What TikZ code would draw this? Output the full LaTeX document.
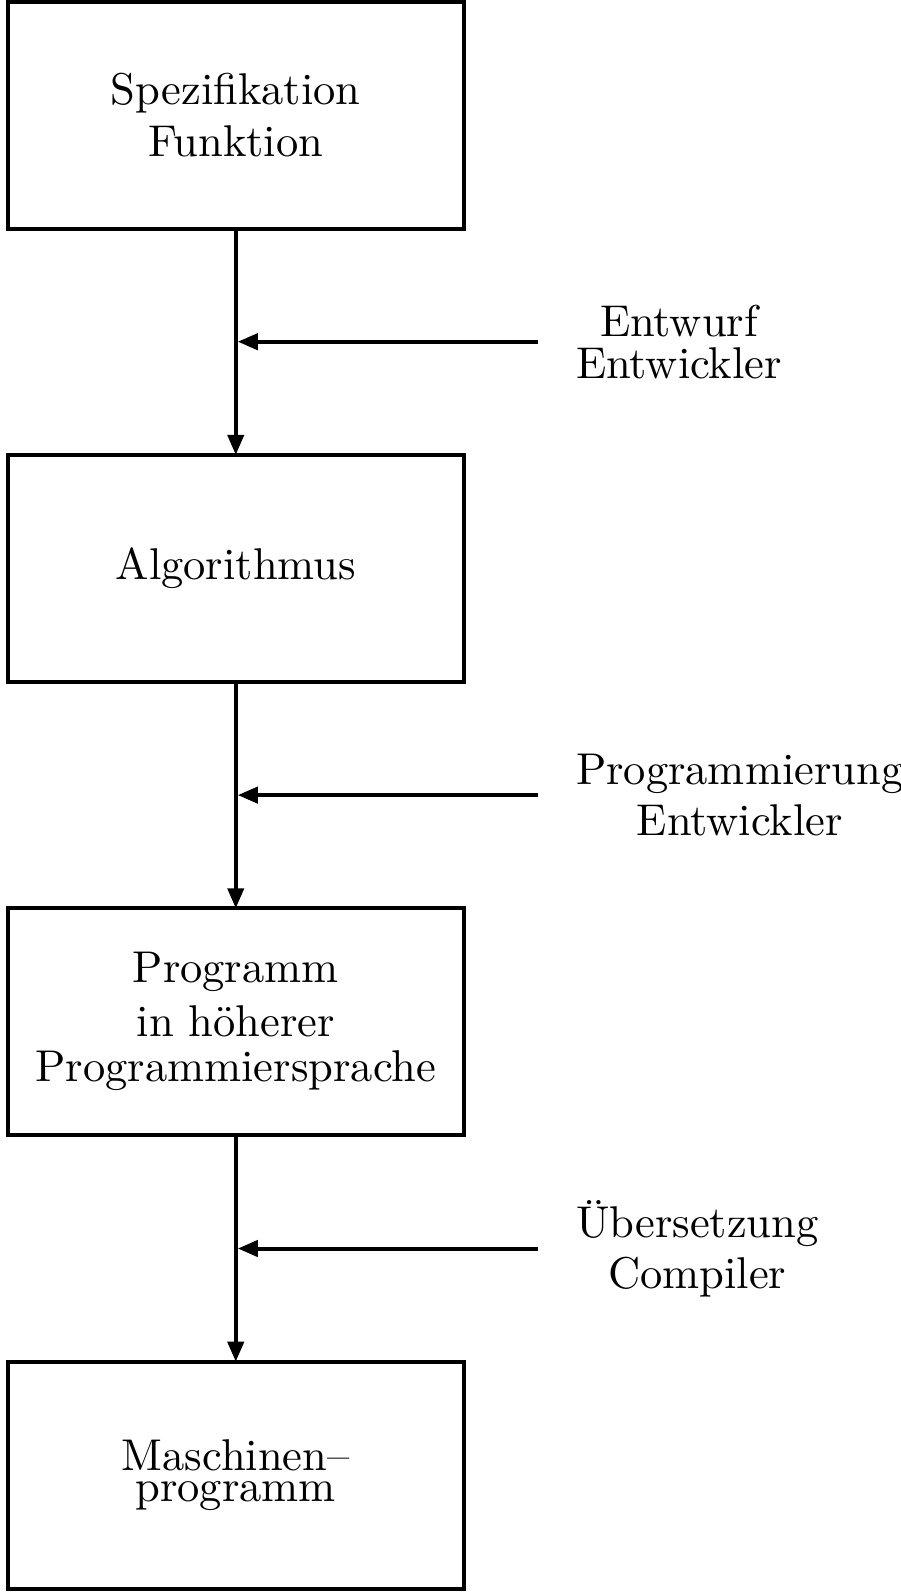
\documentclass[tikz,border=0pt]{standalone}
\usepackage{fontspec}
\setmainfont{lmroman10-regular}[Extension=.otf]
\usetikzlibrary{arrows.meta}
\begin{document}
\begin{tikzpicture}[x=1pt,y=-1pt,
  every node/.style={inner sep=0pt, outer sep=0pt},
  box/.style={draw, line width=4pt, rectangle, minimum width=456.5pt, minimum height=227pt, align=center},
  lab/.style={anchor=west, align=center, font={\fontsize{44.5}{0}\selectfont\lineskip=10.5pt\lineskiplimit=0pt}},
  flow/.style={line width=4pt, -{Triangle[length=20pt,width=16pt]}},
  ]
\useasboundingbox (0,0) rectangle (900,1593);

\node[box, font={\fontsize{44.5}{51.7}\selectfont\lineskiplimit=-100pt}] (b1) at (235.75,115) {Spezifikation\\Funktion};
\node[box, font={\fontsize{44.5}{51.7}\selectfont}] (b2) at (235.75,568.4) {Algorithmus};
\node[box, font={\fontsize{44.5}{45}\selectfont\lineskiplimit=-100pt}] (b3) at (235.75,1021.8) {Programm\\[9pt]in höherer\\Programmiersprache};
\node[box, font={\fontsize{44.5}{31}\selectfont\lineskiplimit=-100pt}] (b4) at (235.75,1475.2) {Maschinen–\\programm};

\node[lab] (l1) at (576,341.7) {Entwurf\\Entwickler};
\node[lab] (l2) at (576,795.1) {Programmierung\\Entwickler};
\node[lab] (l3) at (576,1248.5) {Übersetzung\\Compiler};

\coordinate (s1) at (538,341.7);
\coordinate (j1) at (237.75,341.7);
\coordinate (s2) at (538,795.1);
\coordinate (j2) at (237.75,795.1);
\coordinate (s3) at (538,1248.5);
\coordinate (j3) at (237.75,1248.5);

\draw[flow] (b1.south) -- (b2.north);
\draw[flow] (b2.south) -- (b3.north);
\draw[flow] (b3.south) -- (b4.north);
\draw[flow] (s1) -- (j1);
\draw[flow] (s2) -- (j2);
\draw[flow] (s3) -- (j3);
\end{tikzpicture}
\end{document}
